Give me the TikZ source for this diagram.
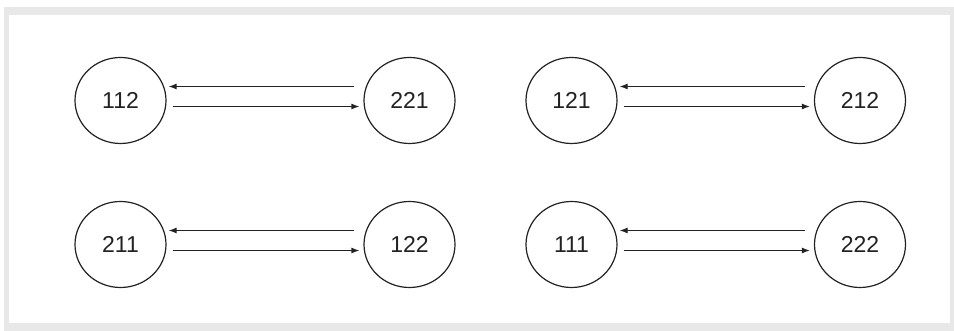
\documentclass[tikz,border=0pt]{standalone}
\usepackage{fontspec}
\setmainfont{Liberation Sans}
\usetikzlibrary{shapes.geometric,arrows.meta}
\definecolor{framegray}{HTML}{E8E8E8}
\definecolor{inkgray}{HTML}{222222}
\begin{document}
\begin{tikzpicture}[x=1pt,y=1pt,
  state/.style={ellipse,draw=inkgray,line width=1.2pt,minimum width=91pt,minimum height=86pt,inner sep=0pt,font=\fontsize{23}{27}\selectfont,text=inkgray},
  link/.style={draw=inkgray,line width=1.2pt,-{Latex[length=8pt,width=6pt]}}]
  \useasboundingbox (0,0) rectangle (954,331);
  % outer panel with light grey border
  \fill[white] (0,0) rectangle (954,331);
  \fill[framegray] (4,0) rectangle (954,324);
  \fill[white] (9,8) rectangle (950,316);

  % state pairs
  \node[state] (a1) at (120.5,230.5) {112};
  \node[state] (b1) at (409.5,230.5) {221};
  \node[state] (a2) at (571.5,230.5) {121};
  \node[state] (b2) at (860,230.5) {212};
  \node[state] (a3) at (120.5,86.5) {211};
  \node[state] (b3) at (409.5,86.5) {122};
  \node[state] (a4) at (571.5,86.5) {111};
  \node[state] (b4) at (860,86.5) {222};

  \foreach \i in {1,2,3,4}{
    \draw[link] ([xshift=-9pt,yshift=14pt]b\i.west) -- ([xshift=2pt,yshift=14pt]a\i.east);
    \draw[link] ([xshift=6pt,yshift=-6pt]a\i.east) -- ([xshift=-4pt,yshift=-6pt]b\i.west);
  }
\end{tikzpicture}
\end{document}
